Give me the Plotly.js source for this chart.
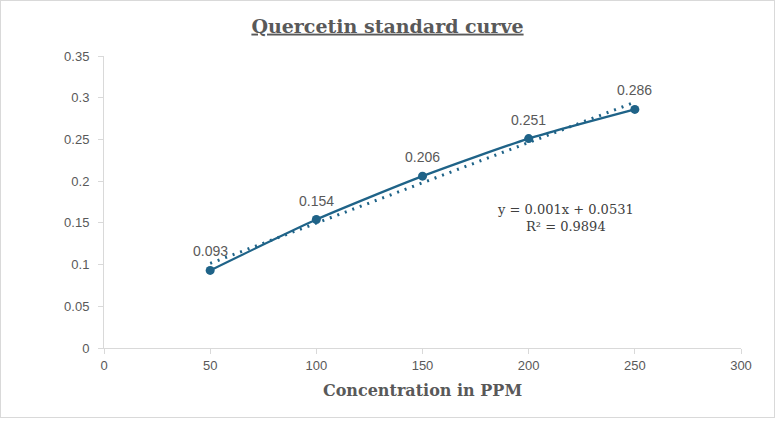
<!DOCTYPE html>
<html>
<head>
<meta charset="utf-8">
<script src="https://cdn.plot.ly/plotly-3.0.1.min.js"></script>
<style>
  body { margin: 0; background: #fff; }
  #chart { width: 773px; height: 416px; border: 1px solid #d9d9d9; }
</style>
</head>
<body>
<div id="chart"></div>
<script>
// quercetin standard curve: absorbance vs concentration
let concentration = [50, 100, 150, 200, 250];
let absorbance = [0.093, 0.154, 0.206, 0.251, 0.286];
let pointLabels = ["0.093", "0.154", "0.206", "0.251", "0.286"];
let equationText = "y = 0.001x + 0.0531<br>R² = 0.9894";

// least squares fit for the linear trendline
function linearFit(xs, ys) {
  let n = xs.length;
  let mx = xs.reduce((a, b) => a + b, 0) / n;
  let my = ys.reduce((a, b) => a + b, 0) / n;
  let sxy = 0, sxx = 0;
  for (let i = 0; i < n; i++) {
    sxy += (xs[i] - mx) * (ys[i] - my);
    sxx += (xs[i] - mx) * (xs[i] - mx);
  }
  let slope = sxy / sxx;
  return { slope: slope, intercept: my - slope * mx };
}

let fit = linearFit(concentration, absorbance);
let trendX = [concentration[0], concentration[concentration.length - 1]];
let trendY = trendX.map((x) => fit.slope * x + fit.intercept);

let lineColor = "#1f6388";
let textColor = "#595959";
let sansFont = "Liberation Sans, Arial, sans-serif";
let serifFont = "DejaVu Serif, Liberation Serif, serif";

let traces = [
  {
    x: trendX,
    y: trendY,
    mode: "lines",
    line: { color: lineColor, width: 3, dash: "2px,6px" },
    hoverinfo: "skip",
  },
  {
    x: concentration,
    y: absorbance,
    mode: "lines+markers",
    line: { color: lineColor, width: 2.2, shape: "spline", smoothing: 0.6 },
    marker: { color: lineColor, size: 9 },
  },
];

// data labels above each point
let labelNotes = concentration.map((x, i) => ({
  x: x,
  y: absorbance[i],
  xref: "x",
  yref: "y",
  text: pointLabels[i],
  showarrow: false,
  yshift: 19,
  font: { family: sansFont, size: 14, color: textColor },
}));

let axisFont = { family: sansFont, size: 13, color: textColor };

let layout = {
  width: 773,
  height: 416,
  margin: { l: 103, r: 33, t: 55, b: 69 },
  paper_bgcolor: "#fff",
  plot_bgcolor: "#fff",
  showlegend: false,
  title: {
    text: "<u>Quercetin standard curve</u>",
    font: { family: serifFont, size: 19, color: textColor, weight: "bold" },
    x: 0.5,
    xanchor: "center",
    y: 0.94,
    yanchor: "middle",
  },
  xaxis: {
    range: [0, 300],
    dtick: 50,
    showgrid: false,
    zeroline: false,
    showline: true,
    linecolor: "#d9d9d9",
    linewidth: 1,
    ticks: "outside",
    ticklen: 5,
    tickcolor: "#d9d9d9",
    tickfont: axisFont,
    title: {
      text: "<b>Concentration in PPM</b>",
      font: { family: serifFont, size: 16, color: textColor },
      standoff: 13,
    },
  },
  yaxis: {
    range: [0, 0.35],
    dtick: 0.05,
    showgrid: false,
    zeroline: false,
    showline: true,
    linecolor: "#d9d9d9",
    linewidth: 1,
    ticks: "outside",
    ticklen: 5,
    tickcolor: "#d9d9d9",
    tickfont: axisFont,
    ticklabelstandoff: 6,
  },
  annotations: labelNotes.concat([
    {
      xref: "paper",
      yref: "paper",
      x: 0.724,
      y: 0.445,
      xanchor: "center",
      yanchor: "middle",
      text: equationText,
      showarrow: false,
      align: "center",
      font: { family: serifFont, size: 13, color: "#404040" },
    },
  ]),
};

Plotly.newPlot("chart", traces, layout, { staticPlot: true, displayModeBar: false });
</script>
</body>
</html>
